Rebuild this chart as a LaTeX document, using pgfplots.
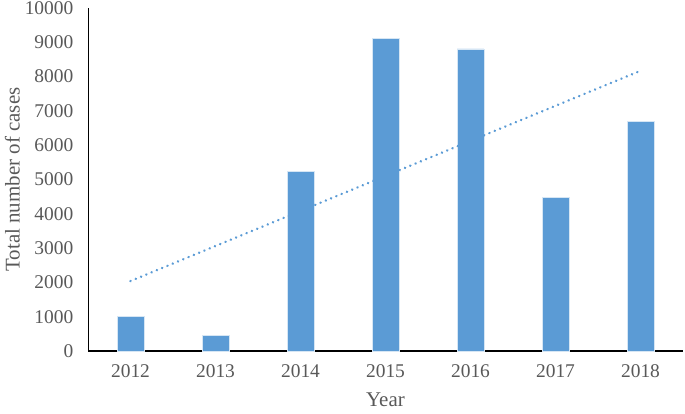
\documentclass[border=0pt]{standalone}
\usepackage{fontspec}
\setmainfont{Liberation Serif}
\usepackage{pgfplots}
\pgfplotsset{compat=1.18}
\usetikzlibrary{calc}
\definecolor{barblue}{RGB}{91,155,213}
\definecolor{txtgrey}{RGB}{89,89,89}

\begin{document}
\begin{tikzpicture}
\begin{axis}[
  scale only axis,
  width=595bp, height=343bp,
  ybar, bar width=26.7bp,
  xmin=-0.5, xmax=6.5,
  ymin=0, ymax=10000,
  xtick={0,1,2,3,4,5,6},
  xticklabels={2012,2013,2014,2015,2016,2017,2018},
  ytick={0,1000,2000,3000,4000,5000,6000,7000,8000,9000,10000},
  axis x line=bottom, axis y line=left,
  x axis line style={-, draw=black, line width=1.4bp},
  y axis line style={-, draw=black, line width=0.9bp},
  tick style={draw=none},
  scaled y ticks=false,
  /pgf/number format/assume math mode=true,
  /pgf/number format/.cd, 1000 sep={}, /pgfplots/.cd,
  ticklabel style={font=\fontsize{19.5}{21}\selectfont, text=txtgrey},
  yticklabel style={xshift=-9bp},
  xticklabel style={yshift=-8bp},
  xlabel={Year}, ylabel={Total number of cases},
  label style={font=\fontsize{21}{23}\selectfont, text=txtgrey},
  xlabel style={yshift=-8bp},
  ylabel style={yshift=-2bp},
  clip=false,
]
\addplot[fill=barblue, draw=white!75!barblue, line width=0.5bp, bar shift=0pt]
  coordinates {(0,1010) (1,450) (2,5240) (3,9125) (4,8805) (5,4480) (6,6690)};
\addplot[sharp plot, barblue, line width=2.7bp, line cap=round,
  dash pattern=on 0.01bp off 5.7bp, mark=none]
  coordinates {(0,2040) (6,8170)};
\coordinate (bl) at (rel axis cs:0,0);
\coordinate (tr) at (rel axis cs:1,1);
\end{axis}
\pgfresetboundingbox
\path[use as bounding box] ($(bl)+(-88bp,-62bp)$) rectangle ($(tr)+(2bp,8bp)$);
\end{tikzpicture}
\end{document}
